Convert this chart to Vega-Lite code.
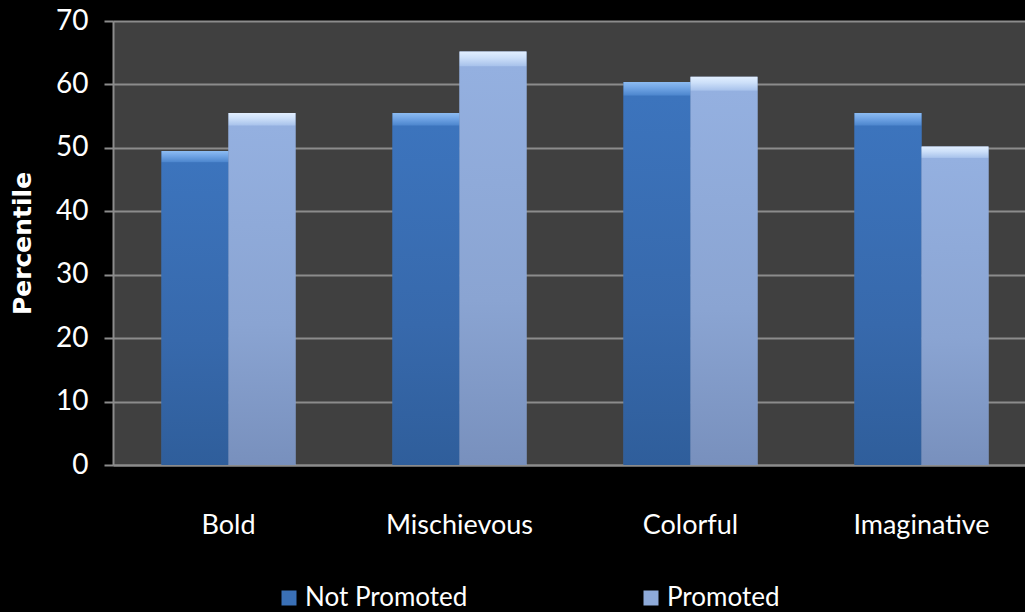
{
  "$schema": "https://vega.github.io/schema/vega-lite/v6.json",
  "width": 924,
  "height": 444,
  "autosize": {"type": "none"},
  "padding": {"left": 113, "top": 21, "right": 0, "bottom": 147},
  "background": "#000000",
  "config": {
    "view": {"fill": "#404040", "stroke": null},
    "font": "Lato"
  },
  "data": {
    "values": [
      {"trait": "Bold", "group": "Not Promoted", "percentile": 49.5},
      {"trait": "Bold", "group": "Promoted", "percentile": 55.5},
      {"trait": "Mischievous", "group": "Not Promoted", "percentile": 55.5},
      {"trait": "Mischievous", "group": "Promoted", "percentile": 65.2},
      {"trait": "Colorful", "group": "Not Promoted", "percentile": 60.4},
      {"trait": "Colorful", "group": "Promoted", "percentile": 61.2},
      {"trait": "Imaginative", "group": "Not Promoted", "percentile": 55.5},
      {"trait": "Imaginative", "group": "Promoted", "percentile": 50.2}
    ]
  },
  "encoding": {
    "x": {
      "field": "trait",
      "type": "nominal",
      "sort": ["Bold", "Mischievous", "Colorful", "Imaginative"],
      "scale": {"paddingInner": 0.42, "paddingOuter": 0.21},
      "axis": {
        "title": null,
        "labelAngle": 0,
        "labelColor": "#ffffff",
        "labelFont": "Lato",
        "labelFontSize": 27,
        "labelPadding": 47,
        "ticks": false,
        "domain": true,
        "domainColor": "#8c8c8c",
        "domainWidth": 2
      }
    },
    "xOffset": {"field": "group", "type": "nominal", "sort": ["Not Promoted", "Promoted"], "scale": {"paddingInner": 0, "paddingOuter": 0}},
    "y": {
      "field": "percentile",
      "type": "quantitative",
      "scale": {"domain": [0, 70], "nice": false},
      "axis": {
        "title": "Percentile",
        "titleColor": "#ffffff",
        "titleFont": "DejaVu Sans",
        "titleFontWeight": "bold",
        "titleFontSize": 25,
        "titlePadding": 20,
        "values": [0, 10, 20, 30, 40, 50, 60, 70],
        "labelColor": "#ffffff",
        "labelFont": "Lato",
        "labelFontSize": 28,
        "labelPadding": 16,
        "tickColor": "#8c8c8c",
        "tickSize": 9,
        "tickWidth": 2,
        "domain": true,
        "domainColor": "#8c8c8c",
        "domainWidth": 2,
        "grid": true,
        "gridColor": "#8c8c8c",
        "gridWidth": 2
      }
    }
  },
  "layer": [
    {
      "mark": {"type": "bar"},
      "encoding": {
        "color": {
          "field": "group",
          "type": "nominal",
          "scale": {"domain": ["Not Promoted", "Promoted"], "range": ["#3a70b6", "#8eaad9"]},
          "legend": {
            "title": null,
            "orient": "none",
            "direction": "horizontal",
            "legendX": 163,
            "legendY": 564,
            "symbolType": "square",
            "symbolSize": 225,
            "symbolStrokeWidth": 0,
            "labelColor": "#ffffff",
            "labelFont": "Lato",
            "labelFontSize": 26,
            "labelOffset": 3,
            "columnPadding": 170,
            "labelLimit": 400
          }
        }
      }
    },
    {
      "transform": [{"filter": "datum.group === 'Not Promoted'"}],
      "mark": {
        "type": "bar",
        "color": {
          "gradient": "linear", "x1": 0, "y1": 0, "x2": 0, "y2": 1,
          "stops": [
            {"offset": 0, "color": "#8dbcf2"},
            {"offset": 0.015, "color": "#72a6e6"},
            {"offset": 0.034, "color": "#4f88cf"},
            {"offset": 0.037, "color": "#3c74bd"},
            {"offset": 0.6, "color": "#3769ac"},
            {"offset": 1, "color": "#2f5e9b"}
          ]
        }
      }
    },
    {
      "transform": [{"filter": "datum.group === 'Promoted'"}],
      "mark": {
        "type": "bar",
        "color": {
          "gradient": "linear", "x1": 0, "y1": 0, "x2": 0, "y2": 1,
          "stops": [
            {"offset": 0, "color": "#e2efff"},
            {"offset": 0.015, "color": "#cde0f9"},
            {"offset": 0.034, "color": "#aac4ec"},
            {"offset": 0.037, "color": "#94b0e0"},
            {"offset": 0.6, "color": "#8aa4d2"},
            {"offset": 1, "color": "#7890bd"}
          ]
        }
      }
    }
  ]
}
